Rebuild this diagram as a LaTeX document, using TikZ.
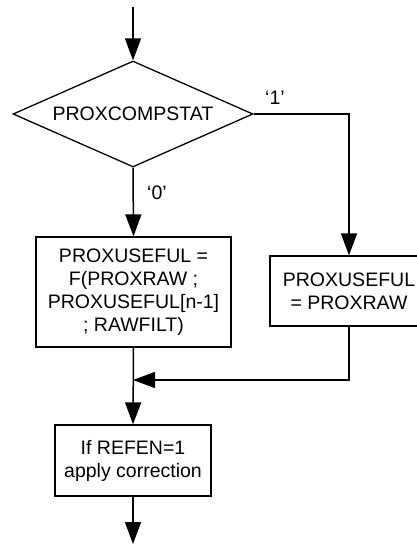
\documentclass[tikz,border=0pt]{standalone}
\usepackage{fontspec}
\setmainfont{Liberation Sans}
\usetikzlibrary{shapes.geometric,arrows.meta}
\tikzset{
  flow/.style={line width=1.5pt, -{Triangle[length=22pt,width=16pt]}},
  procbox/.style={draw, line width=1.3pt, rectangle, align=center, inner sep=0pt,
     font=\fontsize{19.5pt}{23pt}\selectfont},
  decbox/.style={draw, line width=1.3pt, diamond, shape aspect=2.26, inner sep=0pt,
     minimum width=240pt, minimum height=106pt, font=\fontsize{19.5pt}{23pt}\selectfont},
  lbl/.style={font=\fontsize{19.5pt}{23pt}\selectfont, inner sep=0pt}
}
\begin{document}
\begin{tikzpicture}[x=1pt,y=-1pt]
\useasboundingbox (0,0) rectangle (417,544);
\clip (0,0) rectangle (417,544);
\coordinate (start) at (133,7);
\node[decbox] (dec) at (133,114) {PROXCOMPSTAT};
\node[procbox, minimum width=195pt, minimum height=110pt] (lbox) at (133.5,292)
  {PROXUSEFUL =\\F(PROXRAW ;\\PROXUSEFUL[n-1]\\; RAWFILT)};
\node[procbox, minimum width=158pt, minimum height=70pt] (rbox) at (349,291)
  {PROXUSEFUL\\= PROXRAW};
\node[procbox, minimum width=156pt, minimum height=71pt] (bbox) at (133,460.5)
  {If REFEN=1\\apply correction};
\coordinate (join) at (133,380);
\coordinate (rcorner) at (349,114);
\coordinate (jcorner) at (349,380);
\coordinate (finish) at (133,544);
\node[lbl] (one) at (275,98) {‘1’};
\node[lbl] (zero) at (157,193) {‘0’};
\draw[flow] (start) -- (dec.north);
\draw[flow] (dec.south) -- (lbox.north);
\draw[flow] (dec.east) -- (rcorner) -- (rbox.north);
\draw[flow] (rbox.south) -- (jcorner) -- (join);
\draw[flow] (lbox.south) -- (bbox.north);
\draw[flow] (bbox.south) -- (finish);
\end{tikzpicture}
\end{document}
